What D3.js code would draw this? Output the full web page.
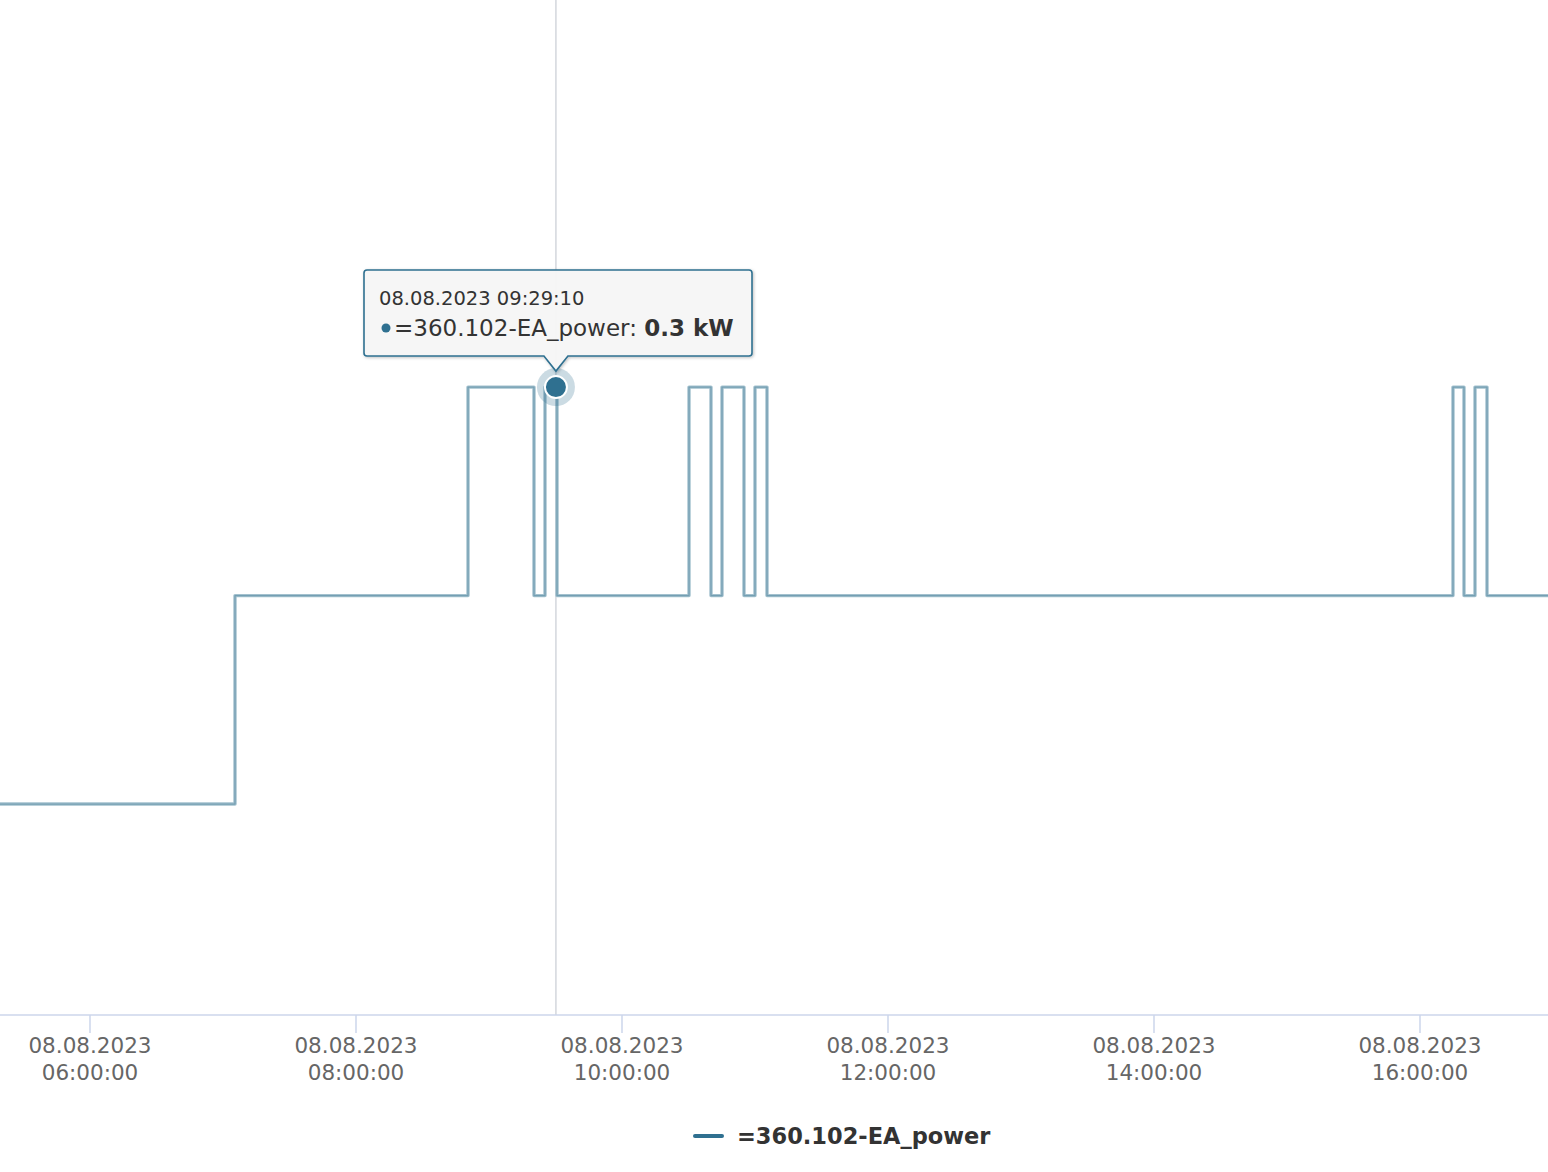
<!DOCTYPE html>
<html><head><meta charset="utf-8">
<script src="https://cdn.jsdelivr.net/npm/d3@7"></script>
<style>
html,body{margin:0;padding:0;background:#fff;}
svg{display:block;font-family:"DejaVu Sans",sans-serif;}
</style></head>
<body>
<svg id="c" width="1548" height="1172"></svg>
<script>
// ---- data ----
const seriesName = "=360.102-EA_power";
const unit = "kW";
const stepTimes = ["05:00:00","07:05:25","08:50:32","09:20:18","09:25:16","09:30:41","10:30:14","10:40:09","10:45:07","10:55:02","11:00:00","11:05:25","16:14:53","16:19:51","16:24:49","16:30:14","17:10:00"];
const stepValues = [0.1,0.2,0.3,0.2,0.3,0.2,0.3,0.2,0.3,0.2,0.3,0.2,0.3,0.2,0.3,0.2,0.2];
const tickTimes = ["06:00:00","08:00:00","10:00:00","12:00:00","14:00:00","16:00:00"];
const dateLabel = "08.08.2023";
const viewStart = "05:19:24";
const viewEnd = "16:57:45";
const hoverTime = "09:30:12";
const hoverLabel = "08.08.2023 09:29:10";
const hoverValue = 0.3;
const yMax = 0.4857;

// ---- setup ----
const plot = {left:0, right:1548, top:0, bottom:1015};
const parse = s => d3.timeParse("%Y-%m-%d %H:%M:%S")("2023-08-08 " + s);
const x = d3.scaleTime().domain([parse(viewStart), parse(viewEnd)]).range([plot.left, plot.right]);
const y = d3.scaleLinear().domain([0, yMax]).range([1012.5, plot.top]);
const svg = d3.select("#c");
const color = "#2f7090";

svg.append("defs").append("clipPath").attr("id","clip")
  .append("rect").attr("x",plot.left).attr("y",plot.top).attr("width",plot.right-plot.left).attr("height",plot.bottom-plot.top);
const shadow = svg.select("defs").append("filter").attr("id","sh").attr("x","-10%").attr("y","-20%").attr("width","130%").attr("height","150%");
shadow.append("feDropShadow").attr("dx",1).attr("dy",1).attr("stdDeviation",1.5).attr("flood-color","#000").attr("flood-opacity",0.25);

const data = stepTimes.map((t,i)=>({t:parse(t), v:stepValues[i]}));

// crosshair
svg.append("line").attr("x1",x(parse(hoverTime))).attr("x2",x(parse(hoverTime)))
  .attr("y1",plot.top).attr("y2",plot.bottom).attr("stroke","#c8ccd4").attr("stroke-width",1.2);

// series
const line = d3.line().x(d=>x(d.t)).y(d=>y(d.v)).curve(d3.curveStepAfter);
const g = svg.append("g").attr("clip-path","url(#clip)");
g.append("path").datum(data).attr("d",line).attr("fill","none")
  .attr("stroke","#a3c1ce").attr("stroke-width",3.4).attr("stroke-linejoin","round");
g.append("path").datum(data).attr("d",line).attr("fill","none")
  .attr("stroke","#6c99ae").attr("stroke-width",1.3).attr("stroke-linejoin","round").attr("opacity",0.85);

// x axis
const axisG = svg.append("g");
axisG.append("line").attr("x1",plot.left).attr("x2",plot.right).attr("y1",plot.bottom).attr("y2",plot.bottom)
  .attr("stroke","#ccd6eb").attr("stroke-width",1.5);
tickTimes.forEach(t=>{
  const tx = x(parse(t));
  axisG.append("line").attr("x1",tx).attr("x2",tx).attr("y1",plot.bottom).attr("y2",plot.bottom+18)
    .attr("stroke","#ccd6eb").attr("stroke-width",1.5);
  const txt = axisG.append("text").attr("x",tx).attr("text-anchor","middle")
    .attr("fill","#666").attr("font-size",21.5);
  txt.append("tspan").attr("x",tx).attr("y",1053).text(dateLabel);
  txt.append("tspan").attr("x",tx).attr("y",1080).text(t);
});

// hover marker
const hx = x(parse(hoverTime)), hy = y(hoverValue);
svg.append("circle").attr("cx",hx).attr("cy",hy).attr("r",19).attr("fill",color).attr("opacity",0.25);
svg.append("circle").attr("cx",hx).attr("cy",hy).attr("r",11).attr("fill",color).attr("stroke","#fff").attr("stroke-width",2);

// tooltip
const tb = {x:364, y:270, w:388, h:86};
const tg = svg.append("g").attr("filter","url(#sh)");
const px = hx, pTip = hy - 16;
const r = 3;
const pathD = `M${tb.x+r},${tb.y} H${tb.x+tb.w-r} Q${tb.x+tb.w},${tb.y} ${tb.x+tb.w},${tb.y+r} V${tb.y+tb.h-r} Q${tb.x+tb.w},${tb.y+tb.h} ${tb.x+tb.w-r},${tb.y+tb.h} H${px+12} L${px},${pTip} L${px-12},${tb.y+tb.h} H${tb.x+r} Q${tb.x},${tb.y+tb.h} ${tb.x},${tb.y+tb.h-r} V${tb.y+r} Q${tb.x},${tb.y} ${tb.x+r},${tb.y} Z`;
tg.append("path").attr("d",pathD).attr("fill","rgba(247,247,247,0.96)").attr("stroke",color).attr("stroke-width",1.6);
svg.append("text").attr("x",379).attr("y",305).attr("fill","#333").attr("font-size",19.5).text(hoverLabel);
svg.append("circle").attr("cx",386).attr("cy",328).attr("r",4.5).attr("fill",color);
const t2 = svg.append("text").attr("x",394).attr("y",336).attr("fill","#333").attr("font-size",23);
t2.append("tspan").text(seriesName + ": ");
t2.append("tspan").attr("font-weight","bold").text(d3.format(".1f")(hoverValue) + " " + unit);

// legend
svg.append("line").attr("x1",695).attr("x2",722).attr("y1",1136).attr("y2",1136)
  .attr("stroke",color).attr("stroke-width",4).attr("stroke-linecap","round");
svg.append("text").attr("x",737).attr("y",1144).attr("fill","#333").attr("font-size",22.5).attr("font-weight","bold").text(seriesName);
</script>
</body></html>
